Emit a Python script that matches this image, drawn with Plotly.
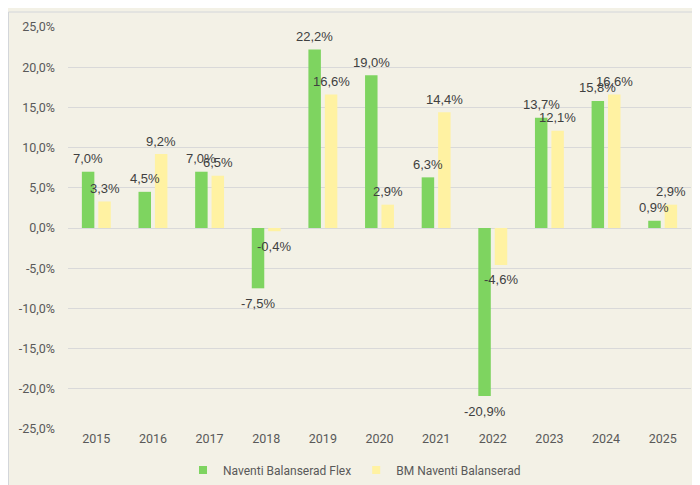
import plotly.graph_objects as go

years = ["2015", "2016", "2017", "2018", "2019", "2020", "2021", "2022", "2023", "2024", "2025"]
flex = [7.0, 4.5, 7.0, -7.5, 22.2, 19.0, 6.3, -20.9, 13.7, 15.8, 0.9]
bm = [3.3, 9.2, 6.5, -0.4, 16.6, 2.9, 14.4, -4.6, 12.1, 16.6, 2.9]
series_names = ["Naventi Balanserad Flex", "BM Naventi Balanserad"]
tick_vals = [-25, -20, -15, -10, -5, 0, 5, 10, 15, 20, 25]
tick_text = [f"{v:.1f}%".replace(".", ",") for v in tick_vals]

green = "rgb(126,212,96)"
yellow = "rgb(255,242,162)"
bg = "rgb(243,241,230)"

bargap = 0.42
slot = (1 - bargap) / 2  # width of one series slot in category units

fig = go.Figure()
annotations = []
for k, (name, vals, col) in enumerate([(series_names[0], flex, green), (series_names[1], bm, yellow)]):
    fig.add_trace(go.Bar(
        x=years, y=vals, name=name, marker=dict(color=col, line=dict(width=0)),
        showlegend=False, hoverinfo="skip"))
    fig.add_trace(go.Scatter(
        x=[None], y=[None], mode="markers", name=name,
        marker=dict(symbol="square", size=8, color=col), showlegend=True))
    off = (k - 0.5) * slot
    for i, v in enumerate(vals):
        annotations.append(dict(
            x=i + off, y=v, xref="x", yref="y", showarrow=False,
            text=f"{v:.1f}%".replace(".", ","),
            yanchor="middle", xanchor="center",
            yshift=13 if v >= 0 else -15,
            font=dict(family="Liberation Sans, Arial", size=13, color="#404040")))

fig.update_layout(
    width=700, height=485,
    paper_bgcolor=bg, plot_bgcolor=bg,
    margin=dict(l=60, r=17, t=19, b=64, autoexpand=False),
    barmode="group", bargap=bargap, bargroupgap=0.24,
    font=dict(family="Roboto, Liberation Sans", size=12.5, color="#595959"),
    xaxis=dict(showgrid=False, showline=False, ticks="", zeroline=False, automargin=False,
               tickfont=dict(size=12.5, color="#595959")),
    yaxis=dict(range=[-25, 25], tickvals=tick_vals, ticktext=tick_text,
               showgrid=True, gridcolor="#D9D9D9", gridwidth=1,
               zeroline=True, zerolinecolor="#D9D9D9", zerolinewidth=1,
               showline=False, ticks="", ticklabelstandoff=12, automargin=False,
               tickfont=dict(size=12.5, color="#595959")),
    legend=dict(orientation="h", x=0.1846, xanchor="left", y=-0.102, yanchor="middle",
                font=dict(size=12, color="#595959"), bgcolor="rgba(0,0,0,0)",
                itemwidth=30, traceorder="normal"),
    annotations=annotations,
    shapes=[dict(type="rect", xref="paper", yref="paper",
                 x0=-0.0955, x1=1.05, y0=-0.18, y1=1.0373,
                 line=dict(color="#D3D6DA", width=1), fillcolor="rgba(0,0,0,0)", layer="below")],
)

fig.write_html("out.html")
